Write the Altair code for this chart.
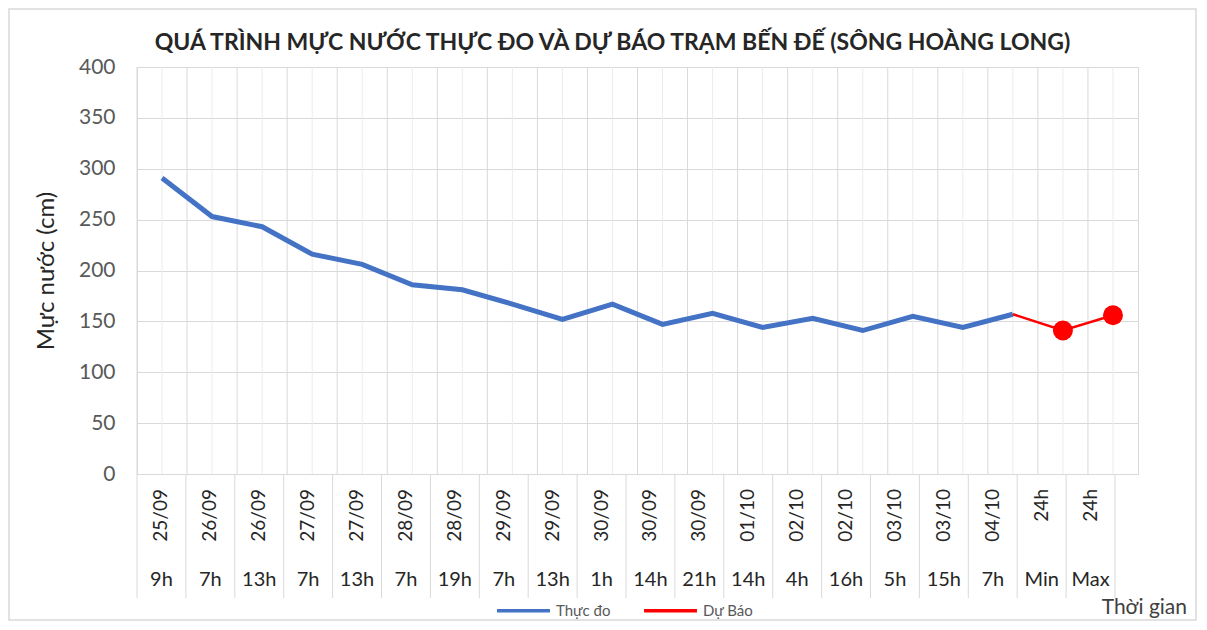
import altair as alt
import pandas as pd

# ---- data ----
dates = ["25/09", "26/09", "26/09", "27/09", "27/09", "28/09", "28/09", "29/09", "29/09", "30/09",
         "30/09", "30/09", "01/10", "02/10", "02/10", "03/10", "03/10", "04/10", "24h", "24h"]
times = ["9h", "7h", "13h", "7h", "13h", "7h", "19h", "7h", "13h", "1h",
         "14h", "21h", "14h", "4h", "16h", "5h", "15h", "7h", "Min", "Max"]
observed = [291, 253, 243, 216, 206, 186, 181, 167, 152, 167, 147, 158, 144, 153, 141, 155, 144, 157]
forecast = [157, 141, 156]          # 04/10 7h (link), 24h Min, 24h Max
series_names = ["Thực đo", "Dự Báo"]
series_colors = ["#4472C4", "#FF0000"]
title_text = "QUÁ TRÌNH MỰC NƯỚC THỰC ĐO VÀ DỰ BÁO TRẠM BẾN ĐẾ (SÔNG HOÀNG LONG)"

keys = [f"{d} {t}" for d, t in zip(dates, times)]

W, H = 1001, 407
LABEL_W = 978
FONT = "Lato"

obs_df = pd.DataFrame({"key": keys[:len(observed)], "value": observed, "series": series_names[0]})
fc_df = pd.DataFrame({"key": keys[len(observed) - 1:], "value": forecast, "series": series_names[1]})
cat_df = pd.DataFrame({"key": keys, "date": dates, "time": times})

xs_plot = alt.Scale(domain=keys, paddingInner=0, paddingOuter=0)
xs_lab = alt.Scale(domain=keys, paddingInner=0, paddingOuter=0, range=[0, LABEL_W])
ys = alt.Scale(domain=[0, 400])
color_scale = alt.Scale(domain=series_names, range=series_colors)

X = lambda bp: alt.X("key:N", scale=xs_plot, axis=None, bandPosition=bp)
XL = lambda bp: alt.X("key:N", scale=xs_lab, axis=None, bandPosition=bp)

# decorative outer frame
frame = alt.Chart(alt.Data(values=[{}])).mark_rect(
    fill="transparent", stroke="#d9d9d9", strokeWidth=1.5
).encode(x=alt.value(-128), x2=alt.value(W + 58), y=alt.value(-58), y2=alt.value(H + 146))

title = alt.Chart(alt.Data(values=[{}])).mark_text(
    text=title_text, align="center", baseline="middle", font=FONT, fontSize=23,
    fontWeight="bold", color="#262626"
).encode(x=alt.value(W / 2 - 25), y=alt.value(-24))

# vertical gridlines at category boundaries and centres
grid_b = alt.Chart(cat_df).mark_rule(color="#d9d9d9", strokeWidth=1).encode(
    x=X(0), y=alt.value(0), y2=alt.value(H))
grid_c = alt.Chart(cat_df).mark_rule(color="#ececec", strokeWidth=1).encode(
    x=X(0.5), y=alt.value(0), y2=alt.value(H))

# horizontal grid through the y axis
yaxis_layer = alt.Chart(obs_df).mark_line(opacity=0).encode(
    x=X(0.5),
    y=alt.Y("value:Q", scale=ys, axis=alt.Axis(
        values=list(range(0, 401, 50)), grid=True, gridColor="#d9d9d9", ticks=False,
        domain=False, labelFont=FONT, labelFontSize=21, labelColor="#595959",
        labelPadding=22, title="Mực nước (cm)", titleFont=FONT, titleFontSize=24,
        titleFontWeight="normal", titleColor="#262626", titlePadding=20)),
)

obs_line = alt.Chart(obs_df).mark_line(strokeWidth=5).encode(
    x=X(0.5), y=alt.Y("value:Q", scale=ys),
    color=alt.Color("series:N", scale=color_scale, legend=alt.Legend(
        title=None, orient="none", legendX=358, legendY=515, direction="horizontal",
        symbolType="stroke", symbolSize=2800, symbolStrokeWidth=3.5,
        labelFont=FONT, labelFontSize=15, labelColor="#595959", columnPadding=26,
        labelOffset=4)),
)
fc_line = alt.Chart(fc_df).mark_line(strokeWidth=2.5).encode(
    x=X(0.5), y=alt.Y("value:Q", scale=ys),
    color=alt.Color("series:N", scale=color_scale),
)
fc_pts = alt.Chart(fc_df.iloc[1:]).mark_circle(size=400, opacity=1, color="#FF0000").encode(
    x=X(0.5), y=alt.Y("value:Q", scale=ys))

# multi-level category labels (below the plot)
sep = alt.Chart(cat_df).mark_rule(color="#d9d9d9").encode(
    x=XL(0), y=alt.value(H), y2=alt.value(H + 124))
sep_end = alt.Chart(alt.Data(values=[{}])).mark_rule(color="#d9d9d9").encode(
    x=alt.value(LABEL_W), y=alt.value(H), y2=alt.value(H + 124))
date_txt = alt.Chart(cat_df).mark_text(
    angle=270, align="right", baseline="middle", font=FONT, fontSize=19, color="#262626"
).encode(x=XL(0.5), y=alt.value(H + 15), text="date:N")
time_txt = alt.Chart(cat_df).mark_text(
    align="center", baseline="middle", font=FONT, fontSize=20, color="#262626"
).encode(x=XL(0.5), y=alt.value(H + 106), text="time:N")
xtitle = alt.Chart(alt.Data(values=[{}])).mark_text(
    text="Thời gian", align="right", baseline="middle", font=FONT, fontSize=21, color="#404040"
).encode(x=alt.value(W + 49), y=alt.value(H + 134))

chart = alt.layer(
    frame, title, grid_b, grid_c, yaxis_layer, obs_line, fc_line, fc_pts,
    sep, sep_end, date_txt, time_txt, xtitle,
).resolve_scale(x="independent").properties(
    width=W, height=H,
    autosize=alt.AutoSizeParams(type="none"),
    padding={"left": 129, "top": 59, "right": 60, "bottom": 148},
).configure_view(stroke="#d9d9d9")

chart.save("out.html", embed_options={"renderer": "svg", "actions": False})
